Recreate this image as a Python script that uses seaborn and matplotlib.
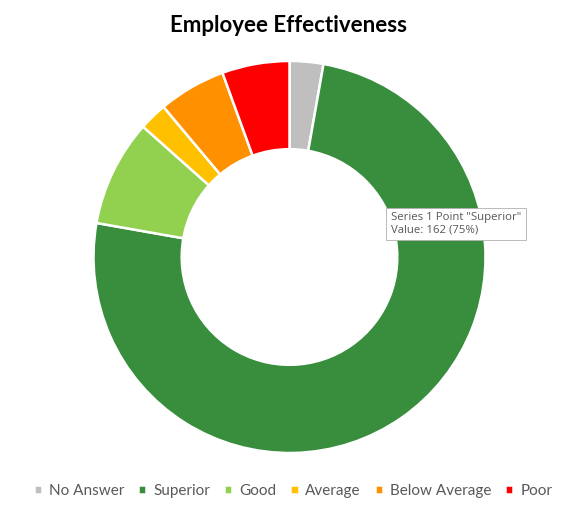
import matplotlib
matplotlib.use("Agg")
import matplotlib.pyplot as plt
import seaborn as sns

categories = ["No Answer", "Superior", "Good", "Average", "Below Average", "Poor"]
values = [6, 162, 19, 5, 12, 12]
colors = ["#BFBFBF", "#388E3C", "#92D050", "#FFC000", "#FF9100", "#FF0000"]
title = "Employee Effectiveness"
tooltip_lines = ['Series 1 Point "Superior"', "Value: 162 (75%)"]

sns.set_theme(style="white")
plt.rcParams['font.family'] = ['Lato', 'DejaVu Sans']

fig = plt.figure(figsize=(5.78, 5.15), dpi=100)
ax = fig.add_axes([93.5/578, 62/515, 392/578, 392/515])
wedges, _ = ax.pie(values, colors=colors, startangle=90, counterclock=False,
                   radius=1.0, wedgeprops=dict(width=0.45, edgecolor="white", linewidth=1.8))
ax.set_xlim(-1, 1)
ax.set_ylim(-1, 1)
ax.set_aspect("equal")
ax.axis("off")

fig.text(289/578, 1 - 26/515, title, ha="center", va="center",
         fontsize=16, fontweight="bold", color="#000000")

leg = fig.legend(wedges, categories, loc="center", bbox_to_anchor=(293/578, 1 - 491/515),
                 ncol=6, frameon=False, fontsize=11, handlelength=0.55, handleheight=0.55,
                 handletextpad=0.45, columnspacing=0.9, labelcolor="#595959")

fig.text(391/578, 1 - 224/515, "\n".join(tooltip_lines), ha="left", va="center",
         fontsize=8.2, color="#575757", linespacing=1.2,
         family=['Open Sans', 'DejaVu Sans'],
         bbox=dict(boxstyle="square,pad=0.4", facecolor="white", edgecolor="#B0B0B0", linewidth=0.6))

fig.savefig("out.png", dpi=100)
